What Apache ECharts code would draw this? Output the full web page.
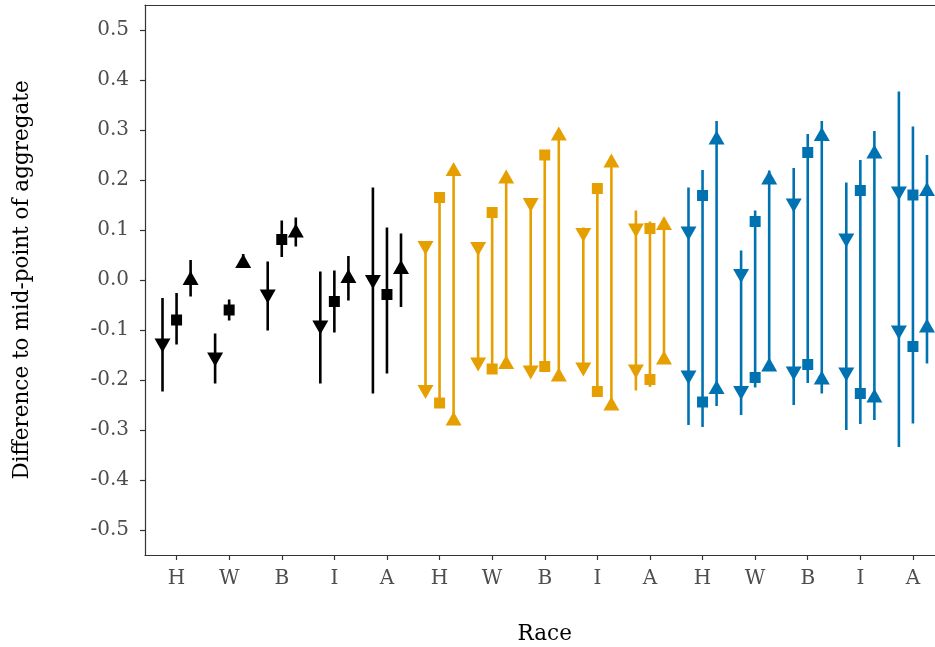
<!DOCTYPE html>
<html><head><meta charset="utf-8">
<script src="https://cdn.jsdelivr.net/npm/echarts@6/dist/echarts.min.js"></script>
<style>html,body{margin:0;padding:0;background:#fff;overflow:hidden}#c{width:935px;height:647px}</style>
</head><body><div id="c"></div>
<script>
// ---- data ----
const races = ['H', 'W', 'B', 'I', 'A'];
const tickLabels = ['H','W','B','I','A','H','W','B','I','A','H','W','B','I','A'];
const yTicks = [-0.5, -0.4, -0.3, -0.2, -0.1, 0, 0.1, 0.2, 0.3, 0.4, 0.5];

// black group: one point per shape
const blackDown      = [-0.131, -0.159, -0.033, -0.095, -0.004];
const blackDownLo    = [-0.223, -0.207, -0.101, -0.207, -0.227];
const blackDownHi    = [-0.036, -0.107,  0.037,  0.017,  0.185];
const blackSquare    = [-0.080, -0.060,  0.081, -0.043, -0.029];
const blackSquareLo  = [-0.129, -0.081,  0.046, -0.105, -0.187];
const blackSquareHi  = [-0.026, -0.039,  0.119,  0.019,  0.105];
const blackUp        = [ 0.004,  0.038,  0.099,  0.008,  0.026];
const blackUpLo      = [-0.033,  0.024,  0.067, -0.041, -0.054];
const blackUpHi      = [ 0.040,  0.052,  0.125,  0.048,  0.093];

// orange group: upper and lower points per shape
const orangeDownHigh   = [ 0.064,  0.062,  0.150,  0.090,  0.099];
const orangeDownLow    = [-0.224, -0.169, -0.185, -0.179, -0.183];
const orangeDownLo     = [-0.224, -0.169, -0.185, -0.179, -0.221];
const orangeDownHi     = [ 0.075,  0.062,  0.150,  0.105,  0.139];
const orangeSquareHigh = [ 0.165,  0.135,  0.250,  0.183,  0.103];
const orangeSquareLow  = [-0.246, -0.178, -0.173, -0.223, -0.199];
const orangeSquareLo   = [-0.246, -0.178, -0.173, -0.223, -0.214];
const orangeSquareHi   = [ 0.165,  0.135,  0.250,  0.183,  0.117];
const orangeUpHigh     = [ 0.222,  0.207,  0.293,  0.239,  0.114];
const orangeUpLow      = [-0.277, -0.164, -0.189, -0.247, -0.155];
const orangeUpLo       = [-0.277, -0.164, -0.189, -0.247, -0.155];
const orangeUpHi       = [ 0.228,  0.207,  0.293,  0.239,  0.114];

// blue group: upper and lower points per shape
const blueDownHigh   = [ 0.093,  0.008,  0.149,  0.079,  0.173];
const blueDownLow    = [-0.195, -0.226, -0.187, -0.189, -0.105];
const blueDownLo     = [-0.290, -0.270, -0.250, -0.300, -0.334];
const blueDownHi     = [ 0.185,  0.059,  0.224,  0.195,  0.377];
const blueSquareHigh = [ 0.169,  0.117,  0.255,  0.179,  0.170];
const blueSquareLow  = [-0.244, -0.195, -0.169, -0.227, -0.133];
const blueSquareLo   = [-0.294, -0.215, -0.206, -0.288, -0.287];
const blueSquareHi   = [ 0.220,  0.139,  0.292,  0.240,  0.307];
const blueUpHigh     = [ 0.285,  0.205,  0.292,  0.257,  0.182];
const blueUpLow      = [-0.214, -0.169, -0.195, -0.231, -0.091];
const blueUpLo       = [-0.252, -0.182, -0.227, -0.280, -0.167];
const blueUpHi       = [ 0.318,  0.219,  0.318,  0.298,  0.250];

// ---- build ----
const colors = ['#000000', '#E69F00', '#0072B2'];
const dodge = [-0.267, 0, 0.267];
const groups = [
  { pts: [[blackDown], [blackSquare], [blackUp]],
    lo: [blackDownLo, blackSquareLo, blackUpLo], hi: [blackDownHi, blackSquareHi, blackUpHi] },
  { pts: [[orangeDownHigh, orangeDownLow], [orangeSquareHigh, orangeSquareLow], [orangeUpHigh, orangeUpLow]],
    lo: [orangeDownLo, orangeSquareLo, orangeUpLo], hi: [orangeDownHi, orangeSquareHi, orangeUpHi] },
  { pts: [[blueDownHigh, blueDownLow], [blueSquareHigh, blueSquareLow], [blueUpHigh, blueUpLow]],
    lo: [blueDownLo, blueSquareLo, blueUpLo], hi: [blueDownHi, blueSquareHi, blueUpHi] }
];
const shapes = [
  { symbol: 'triangle', size: [16, 14], rotate: 180 },
  { symbol: 'rect', size: [11, 11], rotate: 0 },
  { symbol: 'triangle', size: [16, 14], rotate: 0 }
];

const series = [];
groups.forEach((g, gi) => {
  for (let s = 0; s < 3; s++) {
    const barData = races.map((r, c) => [gi * 5 + c + dodge[s], g.lo[s][c], g.hi[s][c]]);
    series.push({
      type: 'custom', z: 2, silent: true,
      data: barData,
      encode: { x: 0, y: [1, 2] },
      renderItem: (params, api) => {
        const x = api.value(0);
        const p1 = api.coord([x, api.value(1)]);
        const p2 = api.coord([x, api.value(2)]);
        return { type: 'line', shape: { x1: p1[0], y1: p1[1], x2: p2[0], y2: p2[1] },
                 style: { stroke: colors[gi], lineWidth: 2.6 } };
      }
    });
    g.pts[s].forEach(arr => {
      series.push({
        type: 'scatter', z: 3, silent: true,
        symbol: shapes[s].symbol, symbolSize: shapes[s].size, symbolRotate: shapes[s].rotate,
        itemStyle: { color: colors[gi], opacity: 1 },
        data: arr.map((v, c) => [gi * 5 + c + dodge[s], v])
      });
    });
  }
});

const font = 'DejaVu Serif';
const chart = echarts.init(document.getElementById('c'), null, { renderer: 'canvas' });
chart.setOption({
  animation: false,
  backgroundColor: '#ffffff',
  grid: { left: 145, right: -9.5, top: 5, bottom: 92, show: false,
          containLabel: false, outerBoundsMode: 'none' },
  xAxis: [{
    type: 'value', min: -0.6, max: 14.6,
    name: 'Race', nameLocation: 'middle', nameGap: 68,
    nameTextStyle: { fontFamily: font, fontSize: 21.5, color: '#000' },
    axisLine: { show: true, onZero: false, lineStyle: { color: '#333333', width: 1.2 } },
    axisTick: { show: true, length: 5, lineStyle: { color: '#333333', width: 1.2 }, customValues: tickLabels.map((t, i) => i) },
    axisLabel: { fontFamily: font, fontSize: 20, color: '#4D4D4D', margin: 14,
      customValues: tickLabels.map((t, i) => i),
      formatter: v => tickLabels[Math.round(v)] },
    splitLine: { show: false }
  }, {
    type: 'value', min: -0.6, max: 14.6, position: 'top',
    axisLine: { show: true, onZero: false, lineStyle: { color: '#333333', width: 1.2 } },
    axisTick: { show: false }, axisLabel: { show: false }, splitLine: { show: false }
  }],
  yAxis: {
    type: 'value', min: -0.55, max: 0.55,
    name: 'Difference to mid-point of aggregate', nameLocation: 'middle', nameGap: 112, nameRotate: 90,
    nameTextStyle: { fontFamily: font, fontSize: 21.5, color: '#000' },
    axisLine: { show: true, onZero: false, lineStyle: { color: '#333333', width: 1.2 } },
    axisTick: { show: true, length: 5, lineStyle: { color: '#333333', width: 1.2 }, customValues: yTicks },
    axisLabel: { fontFamily: font, fontSize: 20, color: '#4D4D4D', margin: 16,
      customValues: yTicks,
      formatter: v => v.toFixed(1) },
    splitLine: { show: false }
  },
  series: series
});
</script>
</body></html>
